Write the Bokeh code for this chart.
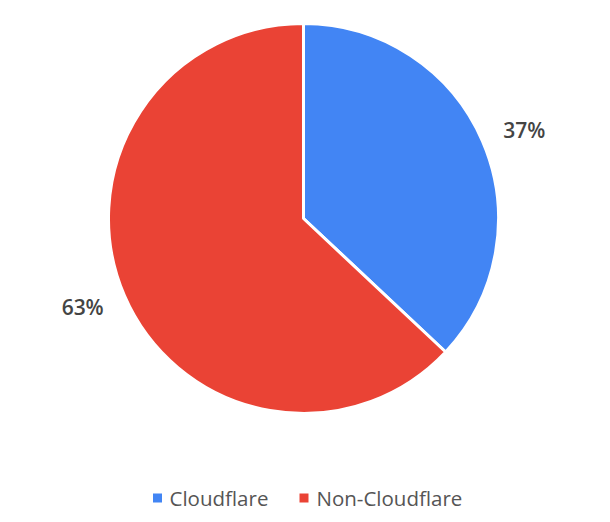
import math
from bokeh.plotting import figure
from bokeh.models import Range1d, ColumnDataSource
from bokeh.core.properties import value
from bokeh.embed import file_html
from bokeh.resources import INLINE

# ---- data ----
categories = ["Cloudflare", "Non-Cloudflare"]
shares = [37, 63]
colors = ["#4285F4", "#EA4335"]
labels = ["37%", "63%"]

W, H = 610, 522
p = figure(width=W, height=H, output_backend="svg", toolbar_location=None,
           x_range=Range1d(0, W), y_range=Range1d(0, H),
           min_border=0, outline_line_color=None)
p.axis.visible = False
p.grid.visible = False
p.background_fill_color = "white"
p.border_fill_color = "white"

# pie geometry (layout)
cx, cy, R = 303, 304, 195
label_r = 238

total = sum(shares)
starts, ends, lx, ly = [], [], [], []
ang = math.pi / 2  # start at top, go clockwise
for s in shares:
    sweep = 2 * math.pi * s / total
    end = ang - sweep
    starts.append(end)
    ends.append(ang)
    mid = (ang + end) / 2 - math.radians(1.5)
    lx.append(cx + label_r * math.cos(mid))
    ly.append(cy + label_r * math.sin(mid))
    ang = end

src = ColumnDataSource(dict(start=starts, end=ends, color=colors, cat=categories))
p.wedge(x=cx, y=cy, radius=R, start_angle="start", end_angle="end",
        fill_color="color", line_color="white", line_width=3, source=src)

p.text(x=lx, y=ly, text=labels, text_align="center", text_baseline="middle",
       text_font=value("'Open Sans SemiBold', 'Open Sans Semibold', 'Open Sans'"),
       text_font_size="21px", text_font_style="normal",
       text_color="#444444")

# legend (manual)
leg_y = 522 - 497.5
sq_x = [157, 303.5]
txt_x = [169, 316]
p.rect(x=sq_x, y=[leg_y] * 2, width=9, height=9, fill_color=colors, line_color=None)
p.text(x=txt_x, y=[leg_y + 0.5] * 2, text=categories, text_align="left",
       text_baseline="middle", text_font=value("Open Sans"), text_font_size="20.5px",
       text_color="#555555")

open("out.html", "w").write(file_html(p, INLINE))
